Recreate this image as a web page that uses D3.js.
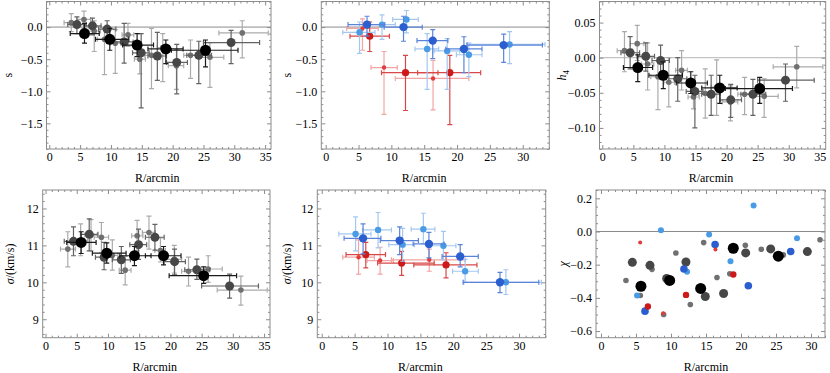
<!DOCTYPE html>
<html>
<head>
<meta charset="utf-8">
<script src="https://cdn.jsdelivr.net/npm/d3@7"></script>
<style>
body { margin: 0; background: #fff; }
</style>
</head>
<body>
<script>
// ---- radial bins (arcmin): fine, medium, coarse, and the two sub-samples ----
var rSmall   = [3.57, 5.62, 7.29, 8.95, 10.7, 12.76, 14.67, 16.57, 18.4, 20.62, 22.9, 26.05, 31.29]
var rSmallLo = [2.4, 4.5, 6.3, 7.8, 9.9, 11.8, 13.8, 15.5, 17.5, 19.3, 21.8, 24.3, 27.5]
var rSmallHi = [4.8, 6.7, 8.3, 10.1, 11.6, 13.7, 15.6, 17.6, 19.2, 21.8, 24.0, 28.3, 35.5]

var rMid   = [4.48, 7.0, 9.38, 12.14, 14.9, 17.52, 20.67, 24.24, 29.48]
var rMidLo = [3.0, 5.6, 8.0, 10.7, 13.5, 16.0, 19.0, 22.3, 25.0]
var rMidHi = [6.0, 8.4, 10.8, 13.6, 16.2, 19.0, 22.4, 26.3, 34.1]

var rBig   = [5.71, 9.81, 14.24, 18.9, 25.33]
var rBigLo = [3.4, 7.5, 11.9, 16.0, 19.8]
var rBigHi = [8.1, 12.9, 16.9, 21.7, 30.6]

var rBlue   = [6.29, 11.85, 16.3, 21.05, 27.1]
var rBlueLo = [3.4, 8.9, 13.9, 18.3, 21.5]
var rBlueHi = [9.0, 14.7, 18.6, 23.8, 33.0]

var rLBlue   = [5.15, 8.57, 12.3, 15.45, 18.5, 21.8, 28.0]
var rLBlueLo = [2.6, 6.2, 10.2, 13.6, 16.5, 19.9, 21.6]
var rLBlueHi = [7.5, 10.6, 14.1, 17.2, 20.4, 23.8, 33.4]

var rRed   = [6.7, 12.15, 18.9]
var rRedLo = [3.7, 8.5, 14.0]
var rRedHi = [9.7, 17.1, 23.6]

var rLRed   = [5.6, 8.88, 16.35]
var rLRedLo = [3.2, 6.9, 10.6]
var rLRedHi = [8.0, 10.9, 21.8]

// ---- s ----
var sSmall   = [0.07, 0.12, -0.06, -0.19, -0.25, -0.12, -0.50, -0.44, -0.32, -0.60, -0.44, -0.47, -0.09]
var sSmallLo = [-0.07, -0.02, -0.38, -0.74, -0.72, -0.30, -0.73, -0.96, -0.85, -0.97, -0.80, -0.94, -0.48]
var sSmallHi = [0.21, 0.25, 0.10, -0.02, -0.04, 0.06, -0.30, -0.02, -0.10, -0.35, -0.20, -0.24, 0.10]
var sMid   = [0.04, 0.02, -0.03, -0.23, -0.40, -0.45, -0.55, -0.44, -0.24]
var sMidLo = [-0.10, -0.12, -0.20, -0.56, -1.26, -0.83, -1.04, -0.88, -0.57]
var sMidHi = [0.16, 0.14, 0.10, 0.06, -0.10, -0.08, -0.27, -0.22, -0.05]
var sBig   = [-0.10, -0.19, -0.28, -0.34, -0.36]
var sBigLo = [-0.25, -0.36, -0.46, -0.57, -0.62]
var sBigHi = [0.06, -0.02, -0.10, -0.20, -0.20]

var sBlue   = [0.04, 0.0, -0.21, -0.34, -0.28]
var sBlueLo = [-0.14, -0.22, -0.49, -0.71, -0.55]
var sBlueHi = [0.17, 0.17, -0.04, -0.15, -0.11]
var sLBlue   = [-0.08, 0.04, 0.12, -0.34, -0.37, -0.43, -0.27]
var sLBlueLo = [-0.41, -0.19, -0.09, -0.97, -0.97, -0.77, -0.57]
var sLBlueHi = [0.08, 0.19, 0.26, -0.10, -0.18, -0.25, -0.07]
var sRed   = [-0.14, -0.71, -0.71]
var sRedLo = [-0.38, -1.30, -1.52]
var sRedHi = [0.08, -0.44, -0.44]
var sLRed   = [-0.02, -0.63, -0.80]
var sLRedLo = [-0.36, -1.36, -1.29]
var sLRedHi = [0.13, -0.38, -0.52]

// ---- h4 ----
var hSmall   = [0.010, 0.020, -0.009, -0.027, -0.035, -0.018, -0.056, -0.051, -0.042, -0.063, -0.052, -0.055, -0.013]
var hSmallLo = [-0.020, -0.004, -0.046, -0.074, -0.070, -0.046, -0.073, -0.086, -0.082, -0.090, -0.081, -0.085, -0.043]
var hSmallHi = [0.037, 0.046, 0.021, -0.005, 0.000, 0.010, -0.040, -0.016, -0.003, -0.040, -0.028, -0.030, 0.016]
var hMid   = [0.007, 0.002, -0.004, -0.030, -0.048, -0.052, -0.060, -0.052, -0.032]
var hMidLo = [-0.016, -0.019, -0.025, -0.062, -0.100, -0.082, -0.085, -0.082, -0.062]
var hMidHi = [0.030, 0.021, 0.018, 0.000, -0.025, -0.025, -0.038, -0.031, -0.009]
var hBig   = [-0.014, -0.025, -0.036, -0.043, -0.044]
var hBigLo = [-0.034, -0.044, -0.051, -0.065, -0.065]
var hBigHi = [0.004, -0.006, -0.020, -0.025, -0.028]

// ---- sigma (km/s) ----
var vSmall   = [10.90, 11.12, 11.28, 11.22, 10.73, 10.33, 11.26, 11.35, 10.86, 10.62, 10.30, 10.36, 9.79]
var vSmallLo = [10.42, 10.72, 10.85, 10.80, 10.33, 9.93, 10.86, 10.90, 10.55, 10.25, 9.90, 10.00, 9.38]
var vSmallHi = [11.37, 11.58, 11.70, 11.62, 11.15, 10.70, 11.68, 11.79, 11.20, 11.00, 10.68, 10.72, 10.17]
var vMid   = [11.11, 11.30, 10.68, 10.61, 11.02, 11.22, 10.56, 10.34, 9.90]
var vMidLo = [10.72, 10.85, 10.34, 10.24, 10.62, 10.87, 10.20, 10.08, 9.57]
var vMidHi = [11.50, 11.72, 11.08, 10.97, 11.44, 11.57, 10.90, 10.63, 10.22]
var vBig   = [11.08, 10.79, 10.72, 10.72, 10.18]
var vBigLo = [10.78, 10.52, 10.45, 10.47, 9.97]
var vBigHi = [11.37, 11.07, 10.97, 10.97, 10.42]

var vBlue   = [11.19, 11.13, 11.04, 10.70, 10.00]
var vBlueLo = [10.77, 10.75, 10.66, 10.42, 9.72]
var vBlueHi = [11.58, 11.50, 11.35, 11.02, 10.27]
var vLBlue   = [11.31, 11.42, 11.02, 11.44, 10.99, 10.30, 10.00]
var vLBlueLo = [10.85, 10.93, 10.57, 11.04, 10.61, 10.00, 9.67]
var vLBlueHi = [11.77, 11.89, 11.46, 11.87, 11.38, 10.62, 10.34]
var vRed   = [10.75, 10.52, 10.47]
var vRedLo = [10.39, 10.19, 10.12]
var vRedHi = [11.08, 10.84, 10.80]
var vLRed   = [10.68, 10.59, 10.61]
var vLRedLo = [10.22, 10.22, 10.30]
var vLRedHi = [11.15, 10.95, 10.90]

// ---- chi ----
var cSmall = [-0.295, -0.386, -0.228, -0.50, -0.13, -0.44, -0.067, -0.277, -0.255, -0.083, -0.107, -0.141, -0.05]
var cMid   = [-0.186, -0.204, -0.283, -0.184, -0.392, -0.374, -0.129, -0.105, -0.121]
var cBig   = [-0.33, -0.295, -0.343, -0.101, -0.149]
var cBlue  = [-0.48, -0.226, -0.079, -0.327, -0.121]
var cLBlue = [-0.386, 0.008, -0.242, -0.018, -0.18, 0.156, -0.04]
var cRed   = [-0.452, -0.382, -0.259]
var cLRed  = [-0.067, -0.493, -0.109]

var frameColor = "#8c8c8c"
var serif = "'Liberation Serif', 'Times New Roman', 'DejaVu Serif', serif"

var svg = d3.select("body").append("svg")
    .attr("width", 830)
    .attr("height", 373)
    .style("font-family", serif)
    .style("font-size", "12px")

var defs = svg.append("defs")
var clipId = 0

function steps(lo, hi, step){
    var a = Math.ceil(lo / step - 1e-6), b = Math.floor(hi / step + 1e-6)
    return d3.range(a, b + 1).map(function(i){ return +(i * step).toFixed(6) })
}

function zip(r, rlo, rhi, v, vlo, vhi){
    return r.map(function(d, i){
        return {x: d, xlo: rlo ? rlo[i] : null, xhi: rhi ? rhi[i] : null,
                y: v[i], ylo: vlo ? vlo[i] : null, yhi: vhi ? vhi[i] : null}
    })
}

function panel(p){
    var x = d3.scaleLinear().domain(p.xd).range([p.x0, p.x1])
    var y = d3.scaleLinear().domain(p.yd).range([p.y1, p.y0])
    var g = svg.append("g")

    var id = "clip" + (clipId++)
    defs.append("clipPath").attr("id", id).append("rect")
        .attr("x", p.x0).attr("y", p.y0)
        .attr("width", p.x1 - p.x0).attr("height", p.y1 - p.y0)

    // zero line
    g.append("line")
        .attr("x1", p.x0).attr("x2", p.x1)
        .attr("y1", y(0)).attr("y2", y(0))
        .attr("stroke", p.zeroColor).attr("stroke-width", p.zeroWidth)

    var xMaj = steps(0, p.xd[1], 5)
    var xMin = steps(p.xd[0], p.xd[1], 1).filter(function(d){ return xMaj.indexOf(d) < 0 })
    var yMaj = steps(p.yd[0], p.yd[1], p.yStep)
    var yMin = steps(p.yd[0], p.yd[1], p.yMinor).filter(function(d){
        return !yMaj.some(function(m){ return Math.abs(m - d) < 1e-6 }) })

    function ax(axis, tr, vals, size, fmt){
        var a = g.append("g").attr("transform", tr)
            .call(axis.tickValues(vals).tickSize(-size).tickPadding(size > 3 ? 3 : 0)
                .tickFormat(fmt || ""))
        a.attr("font-family", null).attr("font-size", null)
        a.select(".domain").remove()
        a.selectAll("line").attr("stroke", frameColor)
        a.selectAll("text").attr("fill", "#000")
            .style("font-family", serif).style("font-size", "12px")
        return a
    }

    ax(d3.axisBottom(x), "translate(0," + p.y1 + ")", xMaj, 4, d3.format("d"))
        .selectAll("text").attr("dy", "0.75em")
    ax(d3.axisBottom(x), "translate(0," + p.y1 + ")", xMin, 2)
    ax(d3.axisTop(x), "translate(0," + p.y0 + ")", xMaj, 4)
    ax(d3.axisTop(x), "translate(0," + p.y0 + ")", xMin, 2)
    ax(d3.axisLeft(y), "translate(" + p.x0 + ",0)", yMaj, 4, p.yFmt)
        .selectAll("text").attr("x", -4)
    ax(d3.axisLeft(y), "translate(" + p.x0 + ",0)", yMin, 2)
    ax(d3.axisRight(y), "translate(" + p.x1 + ",0)", yMaj, 4)
    ax(d3.axisRight(y), "translate(" + p.x1 + ",0)", yMin, 2)

    g.append("rect")
        .attr("x", p.x0).attr("y", p.y0)
        .attr("width", p.x1 - p.x0).attr("height", p.y1 - p.y0)
        .attr("fill", "none").attr("stroke", frameColor).attr("stroke-width", 1)

    var plot = g.append("g").attr("clip-path", "url(#" + id + ")")

    p.series.forEach(function(s){
        var cap = 2.5
        var bars = plot.append("g").attr("stroke", s.bar).attr("stroke-width", 1.2).attr("fill", "none")
        s.data.forEach(function(d){
            if(d.ylo !== null){
                bars.append("line").attr("x1", x(d.x)).attr("x2", x(d.x)).attr("y1", y(d.ylo)).attr("y2", y(d.yhi))
                bars.append("line").attr("x1", x(d.x) - cap).attr("x2", x(d.x) + cap).attr("y1", y(d.ylo)).attr("y2", y(d.ylo))
                bars.append("line").attr("x1", x(d.x) - cap).attr("x2", x(d.x) + cap).attr("y1", y(d.yhi)).attr("y2", y(d.yhi))
            }
            if(d.xlo !== null){
                bars.append("line").attr("x1", x(d.xlo)).attr("x2", x(d.xhi)).attr("y1", y(d.y)).attr("y2", y(d.y))
                bars.append("line").attr("x1", x(d.xlo)).attr("x2", x(d.xlo)).attr("y1", y(d.y) - cap).attr("y2", y(d.y) + cap)
                bars.append("line").attr("x1", x(d.xhi)).attr("x2", x(d.xhi)).attr("y1", y(d.y) - cap).attr("y2", y(d.y) + cap)
            }
        })
        plot.append("g").selectAll("circle")
            .data(s.data)
            .enter()
            .append("circle")
            .attr("cx", function(d){ return x(d.x) })
            .attr("cy", function(d){ return y(d.y) })
            .attr("r", s.r)
            .attr("fill", s.fill)
    })

    // axis titles
    g.append("text")
        .attr("x", (x(0) + x(p.xd[1] > 35 ? 35 : 30)) / 2).attr("y", p.y1 + 33)
        .attr("text-anchor", "middle")
        .text("R/arcmin")
    var yl = g.append("text")
        .attr("transform", "translate(" + p.ylx + "," + ((p.y0 + p.y1) / 2) + ") rotate(-90)")
        .attr("text-anchor", "middle")
    p.ylabel(yl)
}

var grey = {bar: "#ababab", fill: "#707070", r: 2.8}
var dark = {bar: "#626262", fill: "#474747", r: 4.5}
var blk  = {bar: "#1a1a1a", fill: "#000000", r: 5.5}
var blue  = {bar: "#5b84d9", fill: "#2b5fcf", r: 4.2}
var lblue = {bar: "#a3c8f0", fill: "#4a9be6", r: 3.2}
var red   = {bar: "#d84848", fill: "#cc1a1a", r: 3.6}
var lred  = {bar: "#f2a5a5", fill: "#e03c3c", r: 2.2}

function S(style, data, r){
    return {bar: style.bar, fill: style.fill, r: r || style.r, data: data}
}

function yS(t){ t.text("s") }
function yH(t){
    t.append("tspan").attr("font-style", "italic").text("h")
    t.append("tspan").attr("font-size", "9px").attr("dy", 3).text("4")
}
function yV(t){
    t.append("tspan").attr("font-style", "italic").text("σ")
    t.append("tspan").text("/(km/s)")
}
function yC(t){ t.append("tspan").attr("font-style", "italic").text("χ") }

// top row
panel({x0: 46.5, x1: 271, y0: 1.5, y1: 149, xd: [-0.45, 35.95], yd: [-1.9, 0.4],
    yStep: 0.5, yMinor: 0.1, yFmt: d3.format(".1f"), zeroColor: "#bdbdbd", zeroWidth: 1.8,
    ylx: 12, ylabel: yS,
    series: [
        S(grey, zip(rSmall, rSmallLo, rSmallHi, sSmall, sSmallLo, sSmallHi)),
        S(dark, zip(rMid, rMidLo, rMidHi, sMid, sMidLo, sMidHi)),
        S(blk, zip(rBig, rBigLo, rBigHi, sBig, sBigLo, sBigHi))
    ]})

panel({x0: 321.3, x1: 549.3, y0: 1.5, y1: 149, xd: [-0.67, 34.05], yd: [-1.9, 0.4],
    yStep: 0.5, yMinor: 0.1, yFmt: d3.format(".1f"), zeroColor: "#bdbdbd", zeroWidth: 1.8,
    ylx: 291, ylabel: yS,
    series: [
        S(lred, zip(rLRed, rLRedLo, rLRedHi, sLRed, sLRedLo, sLRedHi)),
        S(red, zip(rRed, rRedLo, rRedHi, sRed, sRedLo, sRedHi)),
        S(lblue, zip(rLBlue, rLBlueLo, rLBlueHi, sLBlue, sLBlueLo, sLBlueHi)),
        S(blue, zip(rBlue, rBlueLo, rBlueHi, sBlue, sBlueLo, sBlueHi))
    ]})

panel({x0: 599.5, x1: 825.7, y0: 1.5, y1: 149, xd: [-0.45, 35.95], yd: [-0.13, 0.08],
    yStep: 0.05, yMinor: 0.01, yFmt: d3.format(".2f"), zeroColor: "#c4c4c4", zeroWidth: 1.2,
    ylx: 566, ylabel: yH,
    series: [
        S(grey, zip(rSmall, rSmallLo, rSmallHi, hSmall, hSmallLo, hSmallHi)),
        S(dark, zip(rMid, rMidLo, rMidHi, hMid, hMidLo, hMidHi)),
        S(blk, zip(rBig, rBigLo, rBigHi, hBig, hBigLo, hBigHi))
    ]})

// bottom row
panel({x0: 42.7, x1: 270, y0: 190, y1: 337.7, xd: [-0.45, 35.95], yd: [8.5, 12.5],
    yStep: 1, yMinor: 0.2, yFmt: d3.format("d"), zeroColor: "none", zeroWidth: 0,
    ylx: 14, ylabel: yV,
    series: [
        S(grey, zip(rSmall, rSmallLo, rSmallHi, vSmall, vSmallLo, vSmallHi)),
        S(dark, zip(rMid, rMidLo, rMidHi, vMid, vMidLo, vMidHi)),
        S(blk, zip(rBig, rBigLo, rBigHi, vBig, vBigLo, vBigHi))
    ]})

panel({x0: 317.3, x1: 545.7, y0: 190, y1: 337.7, xd: [-0.67, 34.05], yd: [8.5, 12.5],
    yStep: 1, yMinor: 0.2, yFmt: d3.format("d"), zeroColor: "none", zeroWidth: 0,
    ylx: 291, ylabel: yV,
    series: [
        S(lred, zip(rLRed, rLRedLo, rLRedHi, vLRed, vLRedLo, vLRedHi)),
        S(red, zip(rRed, rRedLo, rRedHi, vRed, vRedLo, vRedHi)),
        S(lblue, zip(rLBlue, rLBlueLo, rLBlueHi, vLBlue, vLBlueLo, vLBlueHi)),
        S(blue, zip(rBlue, rBlueLo, rBlueHi, vBlue, vBlueLo, vBlueHi))
    ]})

panel({x0: 596, x1: 825, y0: 190, y1: 337.7, xd: [-0.71, 32.0], yd: [-0.64, 0.25],
    yStep: 0.2, yMinor: 0.05, yFmt: d3.format(".1f"), zeroColor: "#8a8a8a", zeroWidth: 1,
    ylx: 567, ylabel: yC,
    series: [
        S(grey, zip(rSmall, null, null, cSmall)),
        S(dark, zip(rMid, null, null, cMid)),
        S(blk, zip(rBig, null, null, cBig)),
        S(lblue, zip(rLBlue, null, null, cLBlue), 3),
        S(blue, zip(rBlue, null, null, cBlue), 3.8),
        S(red, zip(rRed, null, null, cRed), 3.2),
        S(lred, zip(rLRed, null, null, cLRed), 2)
    ]})
</script>
</body>
</html>
